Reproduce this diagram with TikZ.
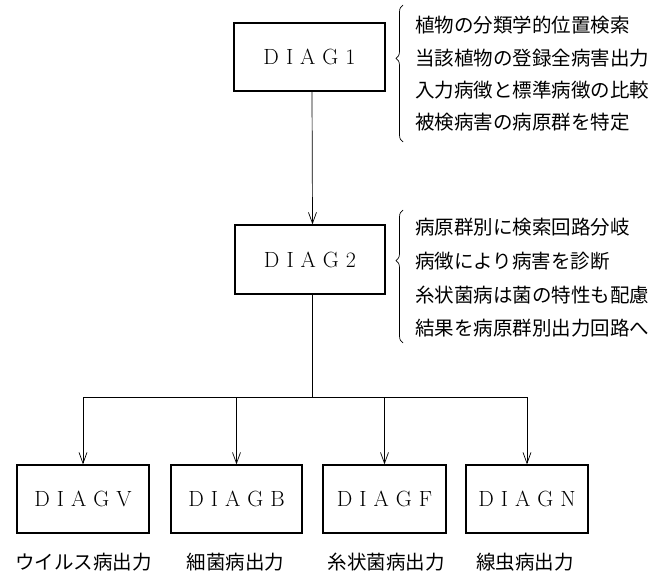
\documentclass[tikz,border=0pt]{standalone}
\usepackage{fontspec}
\newfontfamily\cjk{Noto Sans CJK JP}
\usetikzlibrary{arrows.meta,decorations.pathreplacing}
\newcommand{\ls}{\hspace{7pt}}
\begin{document}
\begin{tikzpicture}[x=1pt,y=-1pt,
  box/.style={draw, line width=1.2pt, minimum height=68pt, inner sep=0pt,
    font=\fontsize{22}{22}\selectfont},
  lbl/.style={font=\cjk\fontsize{19.5}{20}\selectfont, inner sep=0pt},
  note/.style={font=\cjk\fontsize{19.5}{20}\selectfont, inner sep=0pt, anchor=west},
  wire/.style={line width=0.7pt},
  conn/.style={line width=0.7pt, -{Straight Barb[length=11pt,width=8pt,line width=0.7pt]}},
  bracestyle/.style={line width=0.7pt, decorate,
    decoration={brace, amplitude=7pt}}]
\useasboundingbox (0,0) rectangle (659,577);

% boxes
\node[box, minimum width=151pt] (d1) at (309.5,57) {D\ls I\ls A\ls G\ls 1};
\node[box, minimum width=150pt, minimum height=69pt] (d2) at (310,259.5) {D\ls I\ls A\ls G\ls 2};
\node[box, minimum width=132pt] (dv) at (83,499) {D\ls I\ls A\ls G\ls V};
\node[box, minimum width=131pt] (db) at (236.5,499) {D\ls I\ls A\ls G\ls B};
\node[box, minimum width=123pt] (df) at (384.5,499) {D\ls I\ls A\ls G\ls F};
\node[box, minimum width=122pt] (dn) at (527,499) {D\ls I\ls A\ls G\ls N};

% connectors
\coordinate (br) at (312,397);
\draw[conn] ([xshift=2.5pt]d1.south) -- ([xshift=2.5pt]d2.north);
\draw[wire] ([xshift=2pt]d2.south) -- (br);
\draw[conn] (br) -| (dv.north);
\draw[conn] (br) -| (db.north);
\draw[conn] (br) -| (df.north);
\draw[conn] (br) -| (dn.north);

% bottom labels
\node[lbl] (lv) at (83.5,562) {ウイルス病出力};
\node[lbl] (lb) at (235.5,562) {細菌病出力};
\node[lbl] (lf) at (386,562) {糸状菌病出力};
\node[lbl] (ln) at (525,562) {線虫病出力};

% brace 1 and notes
\coordinate (b1s) at (403,142);
\coordinate (b1e) at (403,5);
\draw[bracestyle, decoration={aspect=0.61}] (b1s) -- (b1e);
\node[note] (n11) at (415,25) {植物の分類学的位置検索};
\node[note] (n12) at (415,58) {当該植物の登録全病害出力};
\node[note] (n13) at (415,90) {入力病徴と標準病徴の比較};
\node[note] (n14) at (415,122) {被検病害の病原群を特定};

% brace 2 and notes
\coordinate (b2s) at (403,343);
\coordinate (b2e) at (403,210);
\draw[bracestyle, decoration={aspect=0.62}] (b2s) -- (b2e);
\node[note] (n21) at (415,227) {病原群別に検索回路分岐};
\node[note] (n22) at (415,261) {病徴により病害を診断};
\node[note] (n23) at (415,295) {糸状菌病は菌の特性も配慮};
\node[note] (n24) at (415,328) {結果を病原群別出力回路へ};
\end{tikzpicture}
\end{document}
